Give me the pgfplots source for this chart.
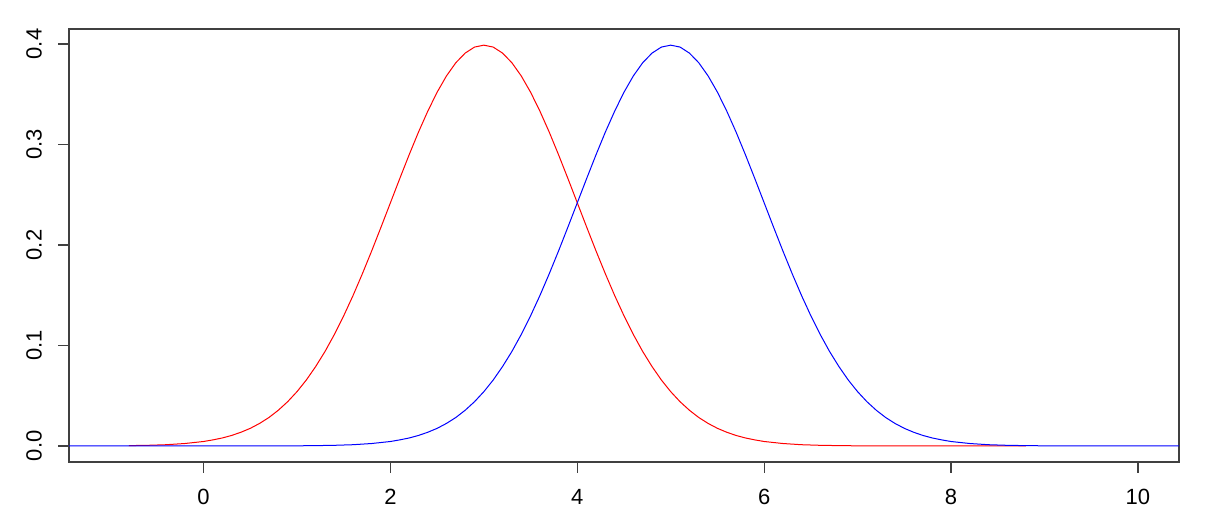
\documentclass[border=0pt]{standalone}
\usepackage{pgfplots}
\pgfplotsset{compat=1.18}
\usepackage{fontspec}
\setmainfont{Liberation Sans}

% red: mean 3, blue: mean 5 (normal densities, sd 1)
\pgfplotstableread{
x y
-0.8 0.0003
-0.6 0.0006
-0.4 0.0012
-0.2 0.0024
0.0 0.0044
0.1 0.0060
0.2 0.0079
0.3 0.0104
0.4 0.0136
0.5 0.0175
0.6 0.0224
0.7 0.0283
0.8 0.0355
0.9 0.0440
1.0 0.0540
1.1 0.0656
1.2 0.0790
1.3 0.0940
1.4 0.1109
1.5 0.1295
1.6 0.1497
1.7 0.1714
1.8 0.1942
1.9 0.2179
2.0 0.2420
2.1 0.2661
2.2 0.2897
2.3 0.3123
2.4 0.3332
2.5 0.3521
2.6 0.3683
2.7 0.3814
2.8 0.3910
2.9 0.3970
3.0 0.3989
3.1 0.3970
3.2 0.3910
3.3 0.3814
3.4 0.3683
3.5 0.3521
3.6 0.3332
3.7 0.3123
3.8 0.2897
3.9 0.2661
4.0 0.2420
4.1 0.2179
4.2 0.1942
4.3 0.1714
4.4 0.1497
4.5 0.1295
4.6 0.1109
4.7 0.0940
4.8 0.0790
4.9 0.0656
5.0 0.0540
5.1 0.0440
5.2 0.0355
5.3 0.0283
5.4 0.0224
5.5 0.0175
5.6 0.0136
5.7 0.0104
5.8 0.0079
5.9 0.0060
6.0 0.0044
6.2 0.0024
6.4 0.0012
6.6 0.0006
6.8 0.0003
7.0 0.0001
7.4 0.0000
8.8 0.0000
}\redtab

\pgfplotstableread{
x y
-1.44 0.0000
0.6 0.0000
1.0 0.0001
1.2 0.0003
1.4 0.0006
1.6 0.0012
1.8 0.0024
2.0 0.0044
2.1 0.0060
2.2 0.0079
2.3 0.0104
2.4 0.0136
2.5 0.0175
2.6 0.0224
2.7 0.0283
2.8 0.0355
2.9 0.0440
3.0 0.0540
3.1 0.0656
3.2 0.0790
3.3 0.0940
3.4 0.1109
3.5 0.1295
3.6 0.1497
3.7 0.1714
3.8 0.1942
3.9 0.2179
4.0 0.2420
4.1 0.2661
4.2 0.2897
4.3 0.3123
4.4 0.3332
4.5 0.3521
4.6 0.3683
4.7 0.3814
4.8 0.3910
4.9 0.3970
5.0 0.3989
5.1 0.3970
5.2 0.3910
5.3 0.3814
5.4 0.3683
5.5 0.3521
5.6 0.3332
5.7 0.3123
5.8 0.2897
5.9 0.2661
6.0 0.2420
6.1 0.2179
6.2 0.1942
6.3 0.1714
6.4 0.1497
6.5 0.1295
6.6 0.1109
6.7 0.0940
6.8 0.0790
6.9 0.0656
7.0 0.0540
7.1 0.0440
7.2 0.0355
7.3 0.0283
7.4 0.0224
7.5 0.0175
7.6 0.0136
7.7 0.0104
7.8 0.0079
7.9 0.0060
8.0 0.0044
8.2 0.0024
8.4 0.0012
8.6 0.0006
8.8 0.0003
9.0 0.0001
9.4 0.0000
10.44 0.0000
}\bluetab

\begin{document}
\begin{tikzpicture}
\useasboundingbox (-34.5pt,-30pt) rectangle (569.5pt,231pt);
\begin{axis}[
    at={(0,0)}, anchor=south west,
    scale only axis,
    width=555pt, height=216.5pt,
    xmin=-1.44, xmax=10.44,
    ymin=-0.016, ymax=0.415,
    xtick={0,2,4,6,8,10},
    ytick={0,0.1,0.2,0.3,0.4},
    yticklabel style={rotate=90, anchor=south, yshift=4.5pt},
    xticklabel style={yshift=-4.5pt},
    y tick label style={/pgf/number format/.cd, fixed, fixed zerofill, precision=1},
    /pgf/number format/assume math mode=true,
    tick label style={font=\fontsize{11}{13}\selectfont},
    tick align=outside,
    major tick length=5.5pt,
    xtick pos=bottom, ytick pos=left,
    axis line style={black!75, line width=0.6pt},
    every tick/.style={black!75, line width=0.6pt},
    clip=true,
]
\addplot[red, line width=0.5pt] table {\redtab};
\addplot[blue, line width=0.5pt] table {\bluetab};
\end{axis}
\end{tikzpicture}
\end{document}
